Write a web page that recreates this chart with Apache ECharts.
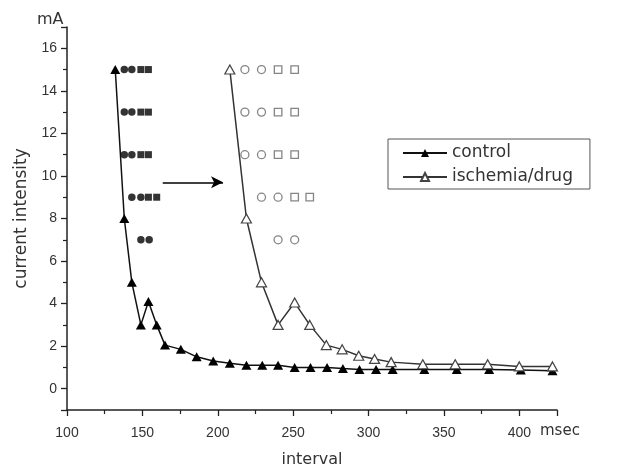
<!DOCTYPE html>
<html>
<head>
<meta charset="utf-8">
<script src="https://cdn.jsdelivr.net/npm/echarts@6/dist/echarts.min.js"></script>
<style>
  html, body { margin: 0; padding: 0; background: #fff; }
  #chart { width: 621px; height: 468px; }
</style>
</head>
<body>
<div id="chart"></div>
<script>
// interval (msec) and current intensity (mA)
const ctrlX = [132, 138, 143, 149, 154, 159.5, 165, 175.5, 186, 197, 208, 219, 229.5, 240, 251, 261.5, 272.5, 283, 294, 305, 316, 337, 358.5, 380, 401, 422];
const ctrlY = [15, 8, 5, 3, 4.1, 3, 2.05, 1.85, 1.5, 1.3, 1.2, 1.1, 1.1, 1.1, 1.0, 1.0, 1.0, 0.95, 0.9, 0.9, 0.9, 0.9, 0.9, 0.9, 0.88, 0.85];

const ischX = [208, 219, 229, 240, 251, 261, 272, 282.5, 293.5, 304, 315, 336, 357.5, 379, 400, 422];
const ischY = [15, 8, 5, 3, 4.05, 3, 2.05, 1.85, 1.55, 1.4, 1.25, 1.15, 1.15, 1.15, 1.05, 1.05];

// rows of response markers next to each curve
const ctrlCircleX = [138, 143, 138, 143, 138, 143, 143, 149, 149, 154.5];
const ctrlCircleY = [15, 15, 13, 13, 11, 11, 9, 9, 7, 7];
const ctrlSquareX = [149, 154, 149, 154, 149, 154, 154, 159.5];
const ctrlSquareY = [15, 15, 13, 13, 11, 11, 9, 9];

const ischCircleX = [218, 229, 218, 229, 218, 229, 229, 240, 240, 251];
const ischCircleY = [15, 15, 13, 13, 11, 11, 9, 9, 7, 7];
const ischSquareX = [240, 251, 240, 251, 240, 251, 251, 261];
const ischSquareY = [15, 15, 13, 13, 11, 11, 9, 9];

const arrowFrom = [163.5, 9.7];
const arrowTo = [203.5, 9.7];

const pairs = (xs, ys) => xs.map((x, i) => [x, ys[i]]);

const labelFont = { fontFamily: "Liberation Sans", fontSize: 14, color: "#333" };
const nameFont = { fontFamily: "DejaVu Sans", fontSize: 16, color: "#333" };

const chart = echarts.init(document.getElementById("chart"), null, { renderer: "canvas" });

const option = {
  animation: false,
  backgroundColor: "#fff",
  grid: { left: 67, right: 64, top: 27, bottom: 58, outerBoundsMode: "none", containLabel: false },
  legend: {
    orient: "vertical",
    left: 388,
    top: 139,
    data: ["control", "ischemia/drug"],
    itemWidth: 44,
    itemHeight: 10,
    itemGap: 4,
    padding: [4, 17, 2, 14],
    borderColor: "#555",
    borderWidth: 1,
    textStyle: { fontFamily: "DejaVu Sans", fontSize: 17, color: "#333", lineHeight: 20 },
  },
  xAxis: {
    type: "value",
    min: 100,
    max: 425,
    interval: 50,
    name: "interval",
    nameLocation: "middle",
    nameGap: 42,
    nameTextStyle: nameFont,
    axisLine: { onZero: false, lineStyle: { color: "#222", width: 1.5 } },
    axisTick: { inside: false, length: 6, lineStyle: { color: "#222", width: 1.3 } },
    minorTick: { show: true, splitNumber: 2, length: 4, lineStyle: { color: "#222", width: 1.2 } },
    axisLabel: { margin: 16, showMaxLabel: false, ...labelFont },
    splitLine: { show: false },
  },
  yAxis: {
    type: "value",
    min: -1,
    max: 17,
    splitNumber: 9,
    name: "current intensity",
    nameLocation: "middle",
    nameGap: 36,
    nameTextStyle: { ...nameFont, fontSize: 17 },
    axisLine: { show: true, onZero: false, lineStyle: { color: "#222", width: 1.5 } },
    axisTick: { show: true, length: 6, lineStyle: { color: "#222", width: 1.3 } },
    minorTick: { show: true, splitNumber: 2, length: 4, lineStyle: { color: "#222", width: 1.2 } },
    axisLabel: {
      margin: 10,
      showMinLabel: false,
      showMaxLabel: false,
      formatter: (v) => (v % 2 === 0 ? String(v) : ""),
      ...labelFont,
    },
    splitLine: { show: false },
  },
  graphic: [
    { type: "text", left: 37, top: 12, style: { text: "mA", font: "16px 'DejaVu Sans'", fill: "#333" } },
    { type: "text", left: 540, top: 424, style: { text: "msec", font: "15px 'DejaVu Sans'", fill: "#333" } },
  ],
  series: [
    {
      name: "control",
      type: "line",
      data: pairs(ctrlX, ctrlY),
      symbol: "triangle",
      symbolSize: [10, 9],
      showAllSymbol: true,
      lineStyle: { color: "#111", width: 1.5 },
      itemStyle: { color: "#000" },
      z: 3,
      markLine: {
        silent: true,
        symbol: ["none", "arrow"],
        symbolSize: [9, 12],
        label: { show: false },
        lineStyle: { color: "#000", width: 1.5, type: "solid" },
        data: [[{ coord: arrowFrom }, { coord: arrowTo }]],
      },
    },
    {
      name: "ischemia/drug",
      type: "line",
      data: pairs(ischX, ischY),
      symbol: "triangle",
      symbolSize: [10, 9],
      showAllSymbol: true,
      lineStyle: { color: "#333", width: 1.5 },
      itemStyle: { color: "#fff", borderColor: "#444", borderWidth: 1.2 },
      z: 4,
    },
    {
      name: "ctrl-circle",
      type: "scatter",
      data: pairs(ctrlCircleX, ctrlCircleY),
      symbol: "circle",
      symbolSize: 7.5,
      itemStyle: { color: "#000" },
    },
    {
      name: "ctrl-square",
      type: "scatter",
      data: pairs(ctrlSquareX, ctrlSquareY),
      symbol: "rect",
      symbolSize: 7,
      itemStyle: { color: "#000" },
    },
    {
      name: "isch-circle",
      type: "scatter",
      data: pairs(ischCircleX, ischCircleY),
      symbol: "circle",
      symbolSize: 8,
      itemStyle: { color: "#fff", borderColor: "#666", borderWidth: 1.3 },
    },
    {
      name: "isch-square",
      type: "scatter",
      data: pairs(ischSquareX, ischSquareY),
      symbol: "rect",
      symbolSize: 7.5,
      itemStyle: { color: "#fff", borderColor: "#666", borderWidth: 1.3 },
    },
  ],
};

chart.setOption(option);
</script>
</body>
</html>
